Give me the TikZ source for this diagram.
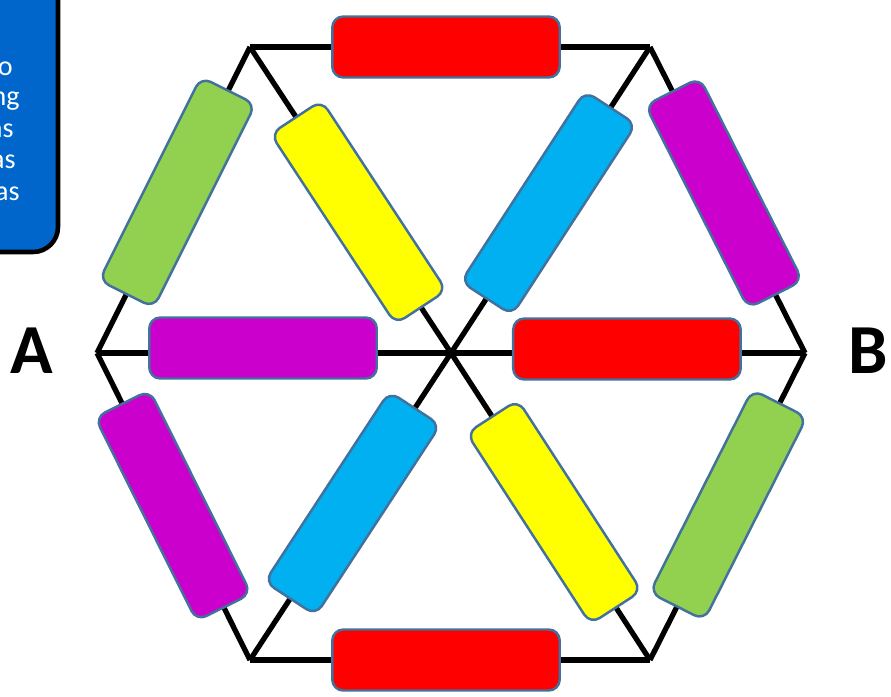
\documentclass[tikz,border=0pt]{standalone}
\usepackage{fontspec}
\setmainfont{Carlito}
\usetikzlibrary{positioning}
\definecolor{boxblue}{HTML}{0066CC}
\definecolor{edgeline}{HTML}{41719C}
\definecolor{barred}{HTML}{FF0000}
\definecolor{bargreen}{HTML}{92D050}
\definecolor{baryellow}{HTML}{FFFF00}
\definecolor{barblue}{HTML}{00B0F0}
\definecolor{barpurple}{HTML}{CC00CC}

\tikzset{
  bar/.style={draw=edgeline, line width=1.4pt, rounded corners=0.22cm,
    minimum width=4.55cm, minimum height=1.22cm, inner sep=0pt, sloped},
  wire/.style={line width=3pt, black},
  endlabel/.style={font=\fontsize{40}{44}\selectfont\bfseries, inner sep=0pt},
  boxtext/.style={font=\fontsize{16}{19}\selectfont, white, inner sep=0pt, anchor=base east}
}

\begin{document}
\begin{tikzpicture}[x=0.02cm, y=-0.02cm]
    \useasboundingbox (0,0) rectangle (891,696);
    % note box, cut by the left and top edges
    \draw[fill=boxblue, line width=2.6pt, rounded corners=0.5cm] (-40,-40) rectangle (58,252);
    \node[boxtext] (t1) at (13,75) {o};
    \node[boxtext] (t2) at (20,105) {ng};
    \node[boxtext] (t3) at (14,137) {as};
    \node[boxtext] (t4) at (16,168) {as};
    \node[boxtext] (t5) at (20,200) {as};
    % hexagon corners
    \coordinate (L) at (97,353);
    \coordinate (R) at (805,353);
    \coordinate (C) at (451,353);
    \coordinate (TL) at (250,47);
    \coordinate (TR) at (650,47);
    \coordinate (BL) at (250,660);
    \coordinate (BR) at (650,660);
    % outer edges
    \draw[wire] (TL) -- node[bar, fill=barred, pos=0.49] (top) {} (TR);
    \draw[wire] (BL) -- node[bar, fill=barred, pos=0.49] (bottom) {} (BR);
    \draw[wire] (L) -- node[bar, fill=bargreen, pos=0.525] (ul) {} (TL);
    \draw[wire] (L) -- node[bar, fill=barpurple, pos=0.497] (ll) {} (BL);
    \draw[wire] (TR) -- node[bar, fill=barpurple, pos=0.477] (ur) {} (R);
    \draw[wire] (BR) -- node[bar, fill=bargreen, pos=0.505] (lr) {} (R);
    % spokes
    \draw[wire] (TL) -- node[bar, fill=baryellow, pos=0.54] (sul) {} (C);
    \draw[wire] (C) -- node[bar, fill=barblue, pos=0.49] (sur) {} (TR);
    \draw[wire] (C) -- node[bar, fill=barblue, pos=0.49] (sll) {} (BL);
    \draw[wire] (C) -- node[bar, fill=baryellow, pos=0.518] (slr) {} (BR);
    \draw[wire] (L) -- node[bar, fill=barpurple, pos=0.469, yshift=0.1cm] (sl) {} (C);
    \draw[wire] (C) -- node[bar, fill=barred, pos=0.497, yshift=0.08cm] (sr) {} (R);
    % terminals
    \node[endlabel] (A) at (32,351) {A};
    \node[endlabel] (B) at (868,351) {B};
\end{tikzpicture}
\end{document}
